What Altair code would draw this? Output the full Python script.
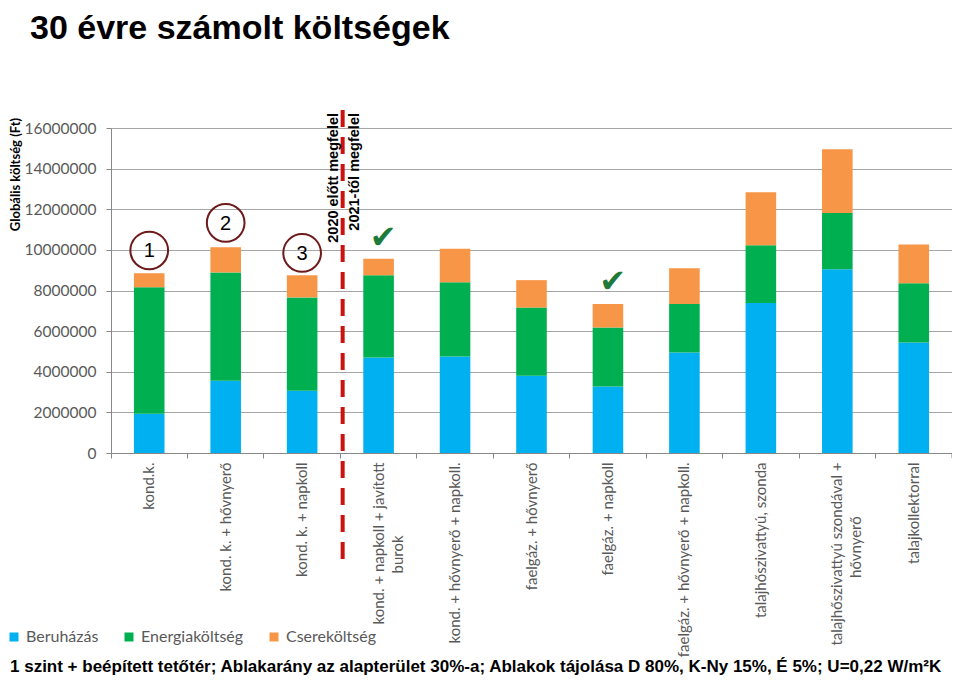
import altair as alt
import pandas as pd

# ---------------- data ----------------
categories = [
    "kond.k.",
    "kond. k. + hővnyerő",
    "kond. k. + napkoll",
    "kond. + napkoll + javított\nburok",
    "kond. + hővnyerő + napkoll.",
    "faelgáz. + hővnyerő",
    "faelgáz. + napkoll",
    "faelgáz. + hővnyerő + napkoll.",
    "talajhőszivattyú, szonda",
    "talajhőszivattyú szondával +\nhővnyerő",
    "talajkollektorral",
]
beruhazas = [1930000, 3560000, 3070000, 4700000, 4750000, 3800000, 3280000, 4950000, 7380000, 9050000, 5440000]
energiakoltseg = [6230000, 5330000, 4590000, 4050000, 3660000, 3360000, 2900000, 2390000, 2850000, 2770000, 2920000]
cserekoltseg = [690000, 1240000, 1090000, 810000, 1640000, 1350000, 1160000, 1760000, 2610000, 3130000, 1900000]

series = ["Beruházás", "Energiaköltség", "Csereköltség"]
colors = ["#00B0F0", "#00B050", "#F79646"]
y_ticks = [0, 2000000, 4000000, 6000000, 8000000, 10000000, 12000000, 14000000, 16000000]

circle_labels = ["1", "2", "3"]
circle_cats = [categories[0], categories[1], categories[2]]
circle_y = [9970000, 11330000, 9850000]

check_cats = [categories[3], categories[6]]
check_y = [10600000, 8430000]

divider_cat = [categories[3]]
note_before = ["2020 előtt megfelel"]
note_after = ["2021-től megfelel"]

title_text = "30 évre számolt költségek"
footer_text = "1 szint + beépített tetőtér; Ablakarány az alapterület 30%-a; Ablakok tájolása D 80%, K-Ny 15%, É 5%; U=0,22 W/m²K"
y_title = "Globális költség (Ft)"

# ---------------- build table ----------------
rows = []
for i, c in enumerate(categories):
    for k, (s, vals) in enumerate(zip(series, [beruhazas, energiakoltseg, cserekoltseg])):
        rows.append({"cat": c, "series": s, "value": vals[i], "order": k})
df = pd.DataFrame(rows)

W, H = 841, 325
x_scale = alt.Scale(domain=categories, paddingInner=0, paddingOuter=0)
y_scale = alt.Scale(domain=[0, 16000000], nice=False)

# two-line labels: trailing non-breaking spaces centre the short second line
# under the first one (Excel style); a zero-width space stops trimming
second_line_pad = {categories[3]: 19, categories[9]: 14}
expr = "datum.label"
for lab, n in second_line_pad.items():
    l1, l2 = lab.split("\n")
    padded = l2 + "\u00a0" * n + "\u200b"
    expr = "datum.label == '{}' ? ['{}', '{}'] : {}".format(
        lab.replace("\n", "\\n"), l1, padded, expr)
label_expr = expr

x_axis = alt.Axis(
    title=None, bandPosition=0, labelAngle=270, labelAlign="right", labelBaseline="middle",
    labelFont="Lato", labelFontSize=15, labelColor="#595959", labelPadding=4, labelLimit=400,
    labelLineHeight=19, tickSize=5, tickColor="#888888", domainColor="#888888", grid=False,
    labelExpr=label_expr,
)
y_axis = alt.Axis(
    values=y_ticks, format="d", title=y_title, titleFont="Lato", titleFontSize=13,
    titleFontWeight="bold", titleColor="#000000", titleAngle=270, titleX=-96, titleY=46,
    titleAlign="center", titleBaseline="middle",
    labelFont="Lato", labelFontSize=15.5, labelColor="#595959", labelPadding=10,
    tickSize=5, tickColor="#888888", domainColor="#888888", grid=True, gridColor="#A6A6A6",
)

bars = alt.Chart(df).mark_bar(width=alt.RelativeBandSize(0.4)).encode(
    x=alt.X("cat:N", scale=x_scale, axis=x_axis),
    y=alt.Y("value:Q", stack="zero", scale=y_scale, axis=y_axis),
    color=alt.Color(
        "series:N",
        scale=alt.Scale(domain=series, range=colors),
        legend=alt.Legend(
            title=None, orient="none", legendX=-105, legendY=501, direction="horizontal",
            columns=3, symbolType="square", symbolSize=81, symbolStrokeWidth=0,
            labelFont="Lato", labelFontSize=16, labelColor="#595959", columnPadding=22,
            labelOffset=4, padding=0,
        ),
    ),
    order=alt.Order("order:Q", sort="ascending"),
)

div_df = pd.DataFrame({"cat": divider_cat})
divider = alt.Chart(div_df).mark_rule(color="#CC1111", strokeWidth=4, strokeDash=[17, 10]).encode(
    x=alt.X("cat:N", scale=x_scale, bandPosition=0.03),
    y=alt.value(-18),
    y2=alt.value(435),
)

nb_df = pd.DataFrame({"cat": [categories[2]], "t": note_before})
na_df = pd.DataFrame({"cat": [categories[3]], "t": note_after})
note_style = dict(angle=270, align="right", baseline="middle", font="Liberation Sans",
                  fontSize=14.5, fontWeight="bold", color="#000000")
before_txt = alt.Chart(nb_df).mark_text(**note_style).encode(
    x=alt.X("cat:N", scale=x_scale, bandPosition=0.917), y=alt.value(-15), text="t:N")
after_txt = alt.Chart(na_df).mark_text(**note_style).encode(
    x=alt.X("cat:N", scale=x_scale, bandPosition=0.19), y=alt.value(-15), text="t:N")

circ_df = pd.DataFrame({"cat": circle_cats, "y": circle_y, "t": circle_labels})
circles = alt.Chart(circ_df).mark_point(shape="circle", size=1420, filled=False,
                                        color="#6E1A1A", strokeWidth=2, opacity=1).encode(
    x=alt.X("cat:N", scale=x_scale), y=alt.Y("y:Q", scale=y_scale))
circ_txt = alt.Chart(circ_df).mark_text(font="Liberation Sans", fontSize=20, baseline="middle",
                                        align="center", color="#000000", dy=1).encode(
    x=alt.X("cat:N", scale=x_scale), y=alt.Y("y:Q", scale=y_scale), text="t:N")

chk_df = pd.DataFrame({"cat": check_cats, "y": check_y, "t": ["✔", "✔"]})
checks = alt.Chart(chk_df).mark_text(font="DejaVu Sans", fontSize=32, baseline="middle",
                                     align="center", color="#1E7A3A").encode(
    x=alt.X("cat:N", scale=x_scale, bandPosition=0.56), y=alt.Y("y:Q", scale=y_scale), text="t:N")

end_df = pd.DataFrame({"cat": [categories[-1]]})
end_tick = alt.Chart(end_df).mark_rule(color="#888888", strokeWidth=1).encode(
    x=alt.X("cat:N", scale=x_scale, bandPosition=1), y=alt.value(H), y2=alt.value(H + 5))

title_df = pd.DataFrame({"t": [title_text]})
title = alt.Chart(title_df).mark_text(align="left", baseline="alphabetic", font="Liberation Sans",
                                      fontSize=34, fontWeight="bold", color="#000000").encode(
    x=alt.value(-81), y=alt.value(-89), text="t:N")

foot_df = pd.DataFrame({"t": [footer_text]})
footer = alt.Chart(foot_df).mark_text(align="left", baseline="alphabetic", font="Liberation Sans",
                                      fontSize=17, fontWeight="bold", color="#000000").encode(
    x=alt.value(-101), y=alt.value(544), text="t:N")

chart = alt.layer(
    bars, divider, before_txt, after_txt, circles, circ_txt, checks, end_tick, title, footer
).properties(
    width=W, height=H,
    autosize=alt.AutoSizeParams(type="none"),
    padding={"left": 103, "top": 120, "right": 0, "bottom": 224},
).configure_view(stroke=None)

chart.save("out.html", embed_options={"renderer": "svg", "actions": False})
